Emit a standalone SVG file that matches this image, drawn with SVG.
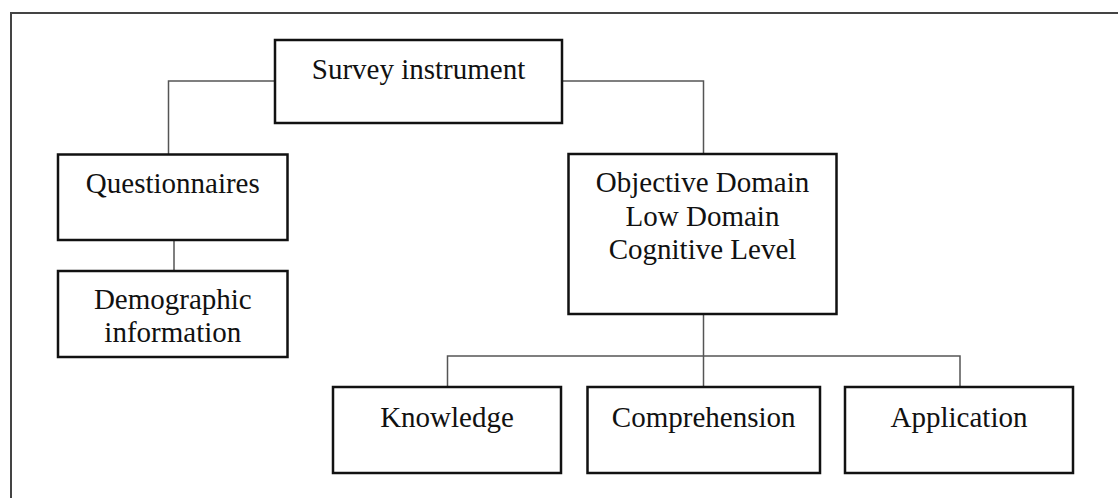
<svg xmlns="http://www.w3.org/2000/svg" width="1118" height="498" viewBox="0 0 1118 498">
  <style>
    .box { fill: #ffffff; stroke: #111111; stroke-width: 2.5; }
    .lbl { font-family: "Liberation Serif", "Times New Roman", serif; font-size: 29px; fill: #111111; text-anchor: middle; }
    .link { fill: none; stroke: #555555; stroke-width: 1.5; }
    .frame { fill: none; stroke: #444444; stroke-width: 2; }
  </style>
  <rect x="0" y="0" width="1118" height="498" fill="#ffffff"/>
  <!-- outer frame, running off the right and bottom edges -->
  <path class="frame" d="M11,520 V13 H1130"/>

  <g id="connectors">
    <path class="link" d="M275,81 H168.5 V154"/>
    <path class="link" d="M562,81 H703.5 V154"/>
    <path class="link" d="M174,240 V271"/>
    <path class="link" d="M703.5,314 V387"/>
    <path class="link" d="M447.5,387 V356 H960 V387"/>
  </g>

  <g id="survey">
    <rect class="box" x="275" y="40" width="287" height="83"/>
    <text class="lbl" x="418.5" y="79">Survey instrument</text>
  </g>

  <g id="questionnaires">
    <rect class="box" x="58" y="154.5" width="229.5" height="85.5"/>
    <text class="lbl" x="172.8" y="193">Questionnaires</text>
  </g>

  <g id="demographic">
    <rect class="box" x="58" y="271" width="229.5" height="86"/>
    <text class="lbl" x="172.8" y="309">Demographic</text>
    <text class="lbl" x="172.8" y="342">information</text>
  </g>

  <g id="objective">
    <rect class="box" x="568.5" y="154" width="268" height="160"/>
    <text class="lbl" x="702.5" y="192">Objective Domain</text>
    <text class="lbl" x="702.5" y="225.5">Low Domain</text>
    <text class="lbl" x="702.5" y="259">Cognitive Level</text>
  </g>

  <g id="knowledge">
    <rect class="box" x="333" y="387" width="228" height="86"/>
    <text class="lbl" x="447" y="427">Knowledge</text>
  </g>

  <g id="comprehension">
    <rect class="box" x="587.5" y="387" width="232.5" height="86"/>
    <text class="lbl" x="703.7" y="427">Comprehension</text>
  </g>

  <g id="application">
    <rect class="box" x="845" y="387" width="228" height="86"/>
    <text class="lbl" x="959" y="427">Application</text>
  </g>
</svg>
